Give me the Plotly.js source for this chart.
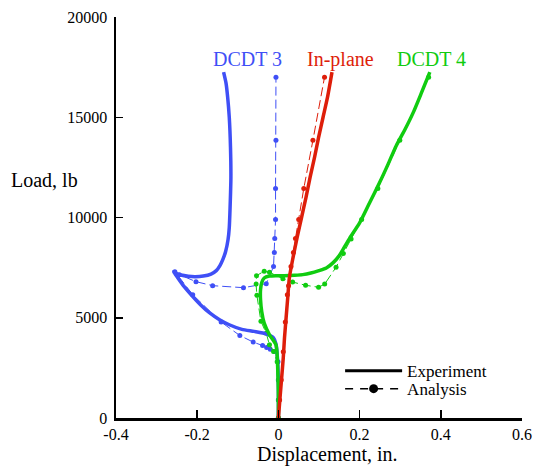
<!DOCTYPE html>
<html>
<head>
<meta charset="utf-8">
<script src="https://cdn.plot.ly/plotly-3.0.1.min.js"></script>
<style>html,body{margin:0;padding:0;background:#fff}#chart{width:542px;height:467px}</style>
</head>
<body>
<div id="chart"></div>
<script>
// ---- DCDT 3 (blue) ----
var dcdt3ExpX = [0, 0, -0.002, -0.006, -0.012, -0.030, -0.060, -0.090, -0.121, -0.145, -0.170, -0.192, -0.212, -0.232, -0.248, -0.258, -0.252, -0.240, -0.222, -0.205, -0.185, -0.166, -0.153, -0.144, -0.137, -0.130, -0.124, -0.121, -0.119, -0.117, -0.118, -0.121, -0.125, -0.129, -0.135];
var dcdt3ExpY = [0, 1500, 2900, 3700, 4000, 4200, 4320, 4420, 4650, 4900, 5250, 5650, 6080, 6550, 7000, 7300, 7220, 7130, 7070, 7050, 7080, 7180, 7350, 7600, 7900, 8300, 8900, 9500, 10500, 12000, 13500, 15000, 16000, 16700, 17250];
var dcdt3AnaX = [0, 0, 0, -0.001, -0.010, -0.020, -0.029, -0.039, -0.062, -0.095, -0.141, -0.211, -0.255, -0.244, -0.203, -0.162, -0.086, -0.030, -0.012, -0.010, -0.009, -0.007, -0.007, -0.006, -0.006];
var dcdt3AnaY = [0, 900, 1900, 2800, 3315, 3430, 3515, 3615, 3785, 4115, 4785, 6150, 7300, 7150, 6800, 6600, 6500, 6700, 7550, 8250, 8950, 9900, 11450, 13850, 17000];

// ---- In-plane (red) ----
var inplaneExpX = [0, 0.004, 0.008, 0.012, 0.015, 0.019, 0.023, 0.027, 0.036, 0.046, 0.057, 0.068, 0.078, 0.089, 0.099, 0.110, 0.121, 0.132];
var inplaneExpY = [0, 1000, 2000, 3000, 4000, 5000, 6000, 7000, 8000, 9000, 10000, 11000, 12000, 13000, 14000, 15000, 16000, 17250];
var inplaneAnaX = [0, 0.003, 0.007, 0.012, 0.017, 0.022, 0.025, 0.031, 0.037, 0.042, 0.050, 0.0625, 0.085, 0.1136];
var inplaneAnaY = [0, 900, 1900, 3300, 4785, 6150, 6600, 7550, 8250, 8950, 9900, 11450, 13850, 17000];

// ---- DCDT 4 (green) ----
var dcdt4ExpX = [0, 0, -0.001, -0.006, -0.022, -0.035, -0.041, -0.044, -0.044, -0.041, -0.035, -0.022, -0.006, 0.015, 0.040, 0.060, 0.080, 0.100, 0.118, 0.135, 0.150, 0.159, 0.175, 0.200, 0.225, 0.249, 0.270, 0.290, 0.312, 0.332, 0.352, 0.373];
var dcdt4ExpY = [0, 1000, 2000, 3650, 4150, 4730, 5300, 5900, 6400, 6750, 6980, 7080, 7100, 7100, 7120, 7150, 7230, 7350, 7480, 7750, 8100, 8400, 8950, 9730, 10750, 11730, 12650, 13570, 14400, 15230, 16200, 17250];
var dcdt4AnaX = [0, 0, 0, -0.003, -0.012, -0.022, -0.030, -0.043, -0.053, -0.055, -0.054, -0.035, -0.022, 0.011, 0.035, 0.067, 0.099, 0.114, 0.142, 0.160, 0.179, 0.205, 0.245, 0.299, 0.370];
var dcdt4AnaY = [0, 900, 1900, 2800, 3315, 3650, 4230, 4820, 6120, 6680, 7100, 7320, 7270, 6950, 6780, 6620, 6520, 6680, 7520, 8200, 8930, 9900, 11450, 13850, 17000];

// ---- axes ----
var xTickVals = [-0.4, -0.2, 0, 0.2, 0.4, 0.6];
var xTickText = ["-0.4", "-0.2", "0", "0.2", "0.4", "0.6"];
var yTickVals = [0, 5000, 10000, 15000, 20000];
var yTickText = ["0", "5000", "10000", "15000", "20000"];

var BLUE = "#3f4ff6", RED = "#de1e0a", GREEN = "#10cc10";
var FONT = '"Liberation Serif", "Times New Roman", Times, serif';

function exp(x, y, c) {
  return {x: x, y: y, type: "scatter", mode: "lines", line: {color: c, width: 3.5, shape: "spline", smoothing: 0.6}, showlegend: false, hoverinfo: "skip"};
}
function ana(x, y, c) {
  return {x: x, y: y, type: "scatter", mode: "lines+markers", line: {color: c, width: 1, dash: "9px,4px"}, marker: {color: c, size: 5}, showlegend: false, hoverinfo: "skip"};
}

var traces = [
  ana(dcdt3AnaX, dcdt3AnaY, BLUE),
  ana(inplaneAnaX, inplaneAnaY, RED),
  ana(dcdt4AnaX, dcdt4AnaY, GREEN),
  exp(dcdt3ExpX, dcdt3ExpY, BLUE),
  exp(dcdt4ExpX, dcdt4ExpY, GREEN),
  exp(inplaneExpX, inplaneExpY, RED),
  {x: [null], y: [null], type: "scatter", mode: "lines", name: "Experiment", legend: "legend", line: {color: "black", width: 3}},
  {x: [null], y: [null], type: "scatter", mode: "lines+markers", name: "Analysis", legend: "legend2", line: {color: "black", width: 1.5, dash: "8px,7px"}, marker: {color: "black", size: 9}}
];

var legendBase = {xanchor: "left", yanchor: "middle", bgcolor: "rgba(0,0,0,0)", borderwidth: 0, font: {family: FONT, size: 17, color: "black"}, itemwidth: 57};

var layout = {
  width: 542, height: 467,
  margin: {l: 116, r: 20, t: 17, b: 49},
  paper_bgcolor: "white", plot_bgcolor: "white",
  font: {family: FONT, size: 16, color: "black"},
  showlegend: true,
  legend: Object.assign({}, legendBase, {x: 0.552, y: 0.117}),
  legend2: Object.assign({}, legendBase, {x: 0.552, y: 0.072}),
  xaxis: {range: [-0.4, 0.6], tickvals: xTickVals, ticktext: xTickText, ticks: "inside", ticklen: 8, tickwidth: 1.5, tickcolor: "black",
          showline: true, linewidth: 2.5, linecolor: "black", showgrid: false, zeroline: false, tickfont: {family: FONT, size: 16}},
  yaxis: {range: [0, 20000], tickvals: yTickVals, ticktext: yTickText, ticks: "inside", ticklen: 7, tickwidth: 1.5, tickcolor: "black",
          showline: true, linewidth: 2.5, linecolor: "black", showgrid: false, zeroline: false, tickfont: {family: FONT, size: 16}, ticklabelstandoff: 3},
  annotations: [
    {text: "Load, lb", xref: "paper", yref: "paper", x: -0.175, y: 0.594, xanchor: "center", yanchor: "middle", showarrow: false, font: {family: FONT, size: 20}},
    {text: "Displacement, in.", xref: "paper", yref: "paper", x: 0.522, y: -0.092, xanchor: "center", yanchor: "middle", showarrow: false, font: {family: FONT, size: 20}},
    {text: "DCDT 3", xref: "paper", yref: "paper", x: 0.324, y: 0.895, xanchor: "center", yanchor: "middle", showarrow: false, font: {family: FONT, size: 20, color: BLUE}},
    {text: "In-plane", xref: "paper", yref: "paper", x: 0.552, y: 0.895, xanchor: "center", yanchor: "middle", showarrow: false, font: {family: FONT, size: 20, color: RED}},
    {text: "DCDT 4", xref: "paper", yref: "paper", x: 0.778, y: 0.895, xanchor: "center", yanchor: "middle", showarrow: false, font: {family: FONT, size: 20, color: GREEN}}
  ]
};

Plotly.newPlot("chart", traces, layout, {staticPlot: true, displayModeBar: false});
</script>
</body>
</html>
